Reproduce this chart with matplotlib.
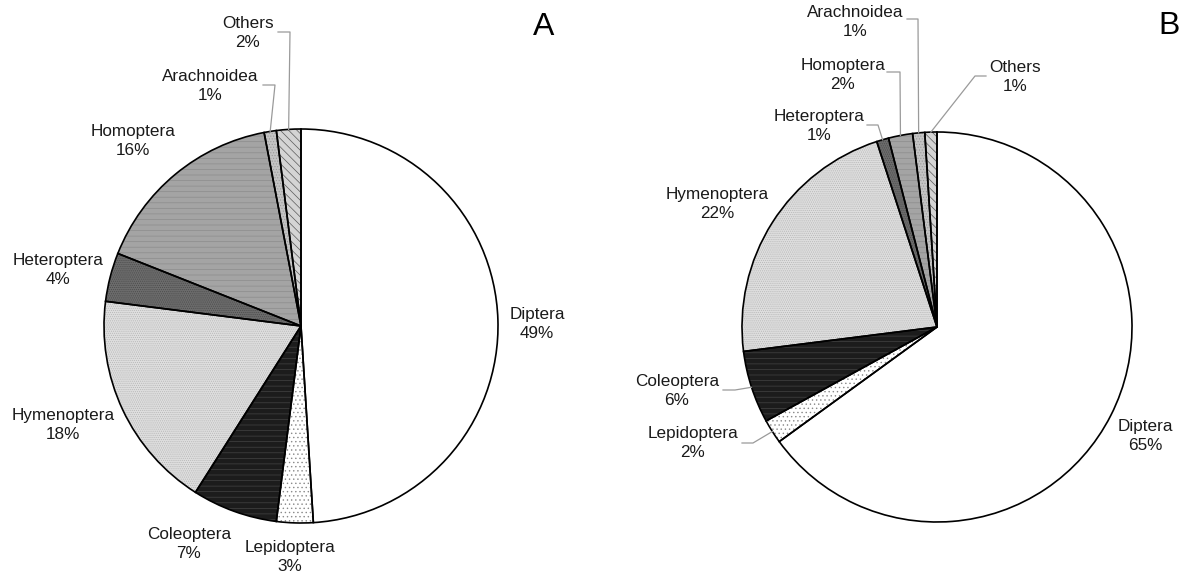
import numpy as np
import matplotlib.pyplot as plt

plt.rcParams['font.family'] = ['Liberation Sans', 'DejaVu Sans']
plt.rcParams['hatch.linewidth'] = 0.5

# 数据
orders = ['Diptera', 'Lepidoptera', 'Coleoptera', 'Hymenoptera',
          'Heteroptera', 'Homoptera', 'Arachnoidea', 'Others']
pct_a = [49, 3, 7, 18, 4, 16, 1, 2]
pct_b = [65, 2, 6, 22, 1, 2, 1, 1]

# 样式（灰度 + 纹理）
faces = ['#ffffff', '#ffffff', '#1c1c1c', '#dedede',
         '#6c6c6c', '#a4a4a4', '#c4c4c4', '#d4d4d4']
hatch_cols = ['#ffffff', '#8a8a8a', '#444444', '#b8b8b8',
              '#4c4c4c', '#8c8c8c', '#9a9a9a', '#5a5a5a']
hatches = [None, '....', '---', '........', '........', '---', '......',
           '\\\\\\\\']

W, H = 1183, 577

# 标签位置（像素，左上原点），引线：起点 + 拐点x
lab_a = {
    'Diptera': (537, 324), 'Lepidoptera': (290, 557), 'Coleoptera': (189, 544),
    'Hymenoptera': (63, 425), 'Heteroptera': (58, 270), 'Homoptera': (133, 141),
    'Arachnoidea': (210, 86), 'Others': (248, 33),
}
lead_a = {'Arachnoidea': (263, 85, 275), 'Others': (278, 32, 290)}

lab_b = {
    'Diptera': (1145, 436), 'Lepidoptera': (693, 443), 'Coleoptera': (677, 391),
    'Hymenoptera': (717, 204), 'Heteroptera': (819, 126), 'Homoptera': (843, 75),
    'Arachnoidea': (855, 22), 'Others': (1015, 77),
}
lead_b = {'Lepidoptera': (742, 443, 753), 'Coleoptera': (723, 390, 735),
          'Heteroptera': (867, 125, 878), 'Homoptera': (887, 72, 900),
          'Arachnoidea': (907, 19, 918), 'Others': (986, 76, 975)}


def draw_pie(ax, vals, cx, cy, r, labels, leaders, tag, tag_xy):
    center = (cx, H - cy)
    wedges, _ = ax.pie(vals, center=center, radius=r, startangle=90,
                       counterclock=False, colors=faces,
                       wedgeprops=dict(linewidth=0))
    for w, hc, ht in zip(wedges, hatch_cols, hatches):
        w.set_edgecolor(hc)
        if ht:
            w.set_hatch(ht)
    ax.pie(vals, center=center, radius=r, startangle=90, counterclock=False,
           wedgeprops=dict(fill=False, edgecolor='black', linewidth=1.2))

    total = float(sum(vals))
    cum = np.cumsum([0] + list(vals))
    for i, name in enumerate(orders):
        x, y = labels[name]
        ax.text(x, H - y, f'{name}\n{vals[i]}%', ha='center', va='center',
                fontsize=12.3, color='#1a1a1a', linespacing=1.3)
        if name in leaders:
            sx, sy, ex = leaders[name]
            mid = (cum[i] + vals[i] / 2) / total * 2 * np.pi
            px = center[0] + r * np.sin(mid)
            py = center[1] + r * np.cos(mid)
            ax.plot([sx, ex, px], [H - sy, H - sy, py], color='#9a9a9a',
                    linewidth=0.9, zorder=5)
    ax.text(tag_xy[0], H - tag_xy[1], tag, ha='center', va='center',
            fontsize=23, color='black')


fig = plt.figure(figsize=(W / 100, H / 100), dpi=100)
ax = fig.add_axes([0, 0, 1, 1])

draw_pie(ax, pct_a, 301, 326, 197, lab_a, lead_a, 'A', (544, 27))
draw_pie(ax, pct_b, 937, 327, 195, lab_b, lead_b, 'B', (1169, 26))

ax.set_xlim(0, W)
ax.set_ylim(0, H)
ax.set_aspect('auto')
ax.axis('off')

fig.savefig('out.png', dpi=100, facecolor='white')
